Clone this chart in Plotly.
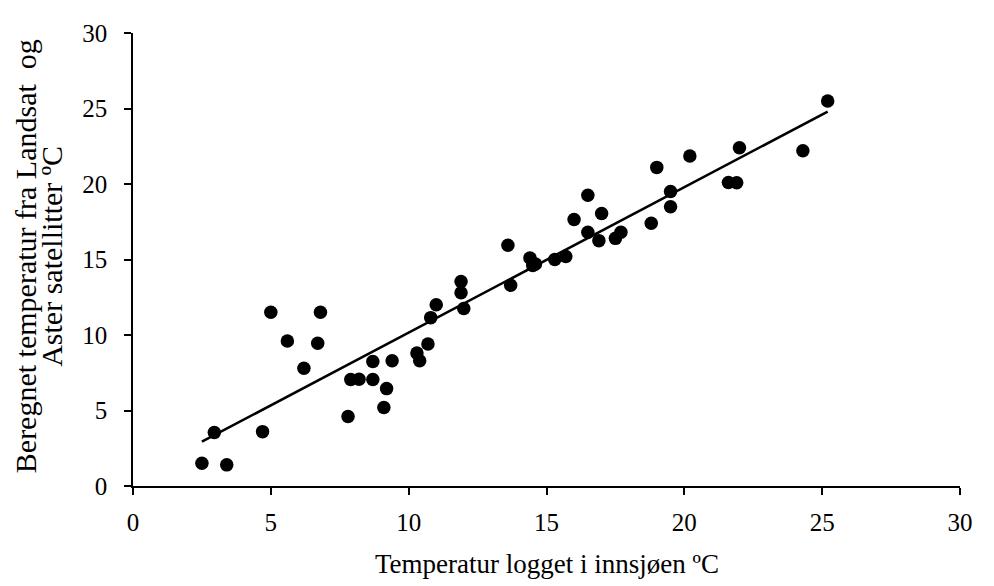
import plotly.graph_objects as go

logged_temp = [2.5, 2.95, 3.4, 4.7, 5.0, 5.6, 6.2, 6.7, 6.8, 7.8, 7.9, 8.2, 8.7, 8.7,
               9.2, 9.1, 9.4, 10.3, 10.4, 10.7, 10.8, 11.0, 11.9, 11.9, 12.0, 13.6,
               13.7, 14.4, 14.5, 14.6, 15.3, 15.7, 16.0, 16.5, 16.5, 16.9, 17.0, 17.5,
               17.7, 18.8, 19.0, 19.5, 19.5, 20.2, 21.6, 21.9, 22.0, 24.3, 25.2]
satellite_temp = [1.5, 3.55, 1.4, 3.6, 11.5, 9.6, 7.8, 9.45, 11.5, 4.6, 7.05, 7.07, 8.25, 7.05,
                  6.45, 5.2, 8.3, 8.8, 8.3, 9.4, 11.15, 12.0, 13.55, 12.8, 11.75, 15.95,
                  13.3, 15.1, 14.6, 14.7, 15.0, 15.2, 17.65, 19.25, 16.8, 16.25, 18.05, 16.4,
                  16.8, 17.4, 21.1, 19.5, 18.5, 21.85, 20.1, 20.08, 22.4, 22.2, 25.5]

# Linear trend line
trend_slope = 0.963
trend_intercept = 0.53
trend_x = [min(logged_temp), max(logged_temp)]
trend_y = [trend_intercept + trend_slope * v for v in trend_x]

x_ticks = [0, 5, 10, 15, 20, 25, 30]
y_ticks = [0, 5, 10, 15, 20, 25, 30]

x_title = "Temperatur logget i innsjøen ºC"
y_title_lines = ["Beregnet temperatur fra Landsat  og", "Aster satellitter ºC"]

font_family = "Liberation Serif, Times New Roman, serif"

fig = go.Figure()
fig.add_trace(go.Scatter(
    x=logged_temp, y=satellite_temp, mode="markers",
    marker=dict(color="black", size=13.5, line=dict(width=0)),
    showlegend=False, cliponaxis=False,
))
fig.add_trace(go.Scatter(
    x=trend_x, y=trend_y, mode="lines",
    line=dict(color="black", width=2.6),
    showlegend=False,
))

axis_common = dict(
    showgrid=False, zeroline=False, showline=True, linecolor="black", linewidth=1.5,
    ticks="outside", ticklen=7, tickwidth=1.5, tickcolor="black",
    ticklabeloverflow="allow",
    tickfont=dict(family=font_family, size=25, color="black"),
)

fig.update_layout(
    width=994, height=586,
    margin=dict(l=125, r=42, t=12, b=108),
    paper_bgcolor="white", plot_bgcolor="white",
    xaxis=dict(range=[0, 30], tickvals=x_ticks, ticktext=[str(t) for t in x_ticks],
               ticklabelstandoff=6, **axis_common),
    yaxis=dict(range=[0, 30], tickvals=y_ticks, ticktext=[str(t) for t in y_ticks],
               ticklabelstandoff=12, **axis_common),
    font=dict(family=font_family, color="black"),
    annotations=[
        dict(text=x_title, xref="paper", yref="paper",
             x=0.5, y=-0.172, xanchor="center", yanchor="middle", showarrow=False,
             font=dict(family=font_family, size=27, color="black")),
        dict(text=y_title_lines[0],
             xref="paper", yref="paper", x=-0.129, y=0.508, xanchor="center",
             yanchor="middle", textangle=-90, showarrow=False,
             font=dict(family=font_family, size=30, color="black")),
        dict(text=y_title_lines[1],
             xref="paper", yref="paper", x=-0.098, y=0.508, xanchor="center",
             yanchor="middle", textangle=-90, showarrow=False,
             font=dict(family=font_family, size=30, color="black")),
    ],
)

fig.write_html("out.html")
